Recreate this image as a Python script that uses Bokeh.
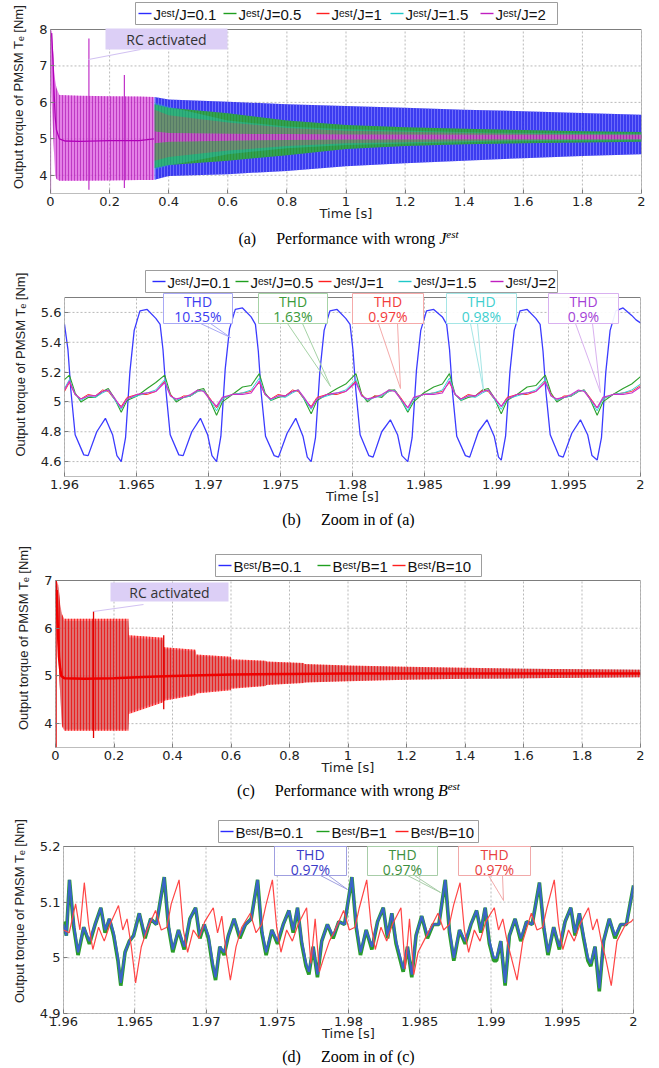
from bokeh.plotting import figure
from bokeh.layouts import column
from bokeh.models import (Range1d, FixedTicker, BoxAnnotation, Label, Arrow,
                          NumeralTickFormatter)
from bokeh.embed import file_html
from bokeh.resources import INLINE

# ===================== DATA =====================
# ---- panel (a): torque envelopes with wrong J_est (0..2 s) ----
a_x_ticks = [0, 0.2, 0.4, 0.6, 0.8, 1, 1.2, 1.4, 1.6, 1.8, 2]
a_x_labels = ["0", "0.2", "0.4", "0.6", "0.8", "1", "1.2", "1.4", "1.6", "1.8", "2"]
a_y_ticks = [4, 5, 6, 7, 8]
a_y_labels = ["4", "5", "6", "7", "8"]
j_names = ["0.1", "0.5", "1", "1.5", "2"]

a_t_j01 = [0.352, 0.4, 0.6, 0.8, 1.0, 1.2, 1.4, 1.6, 1.8, 2.0]
a_hi_j01 = [6.15, 6.08, 6.02, 5.95, 5.90, 5.85, 5.80, 5.76, 5.71, 5.66]
a_lo_j01 = [3.88, 3.98, 4.03, 4.12, 4.25, 4.33, 4.40, 4.47, 4.53, 4.58]

a_t_j05 = [0.352, 0.4, 0.6, 0.8, 1.0, 1.2, 1.4, 1.6, 1.8, 2.0]
a_hi_j05 = [5.95, 5.85, 5.70, 5.50, 5.38, 5.32, 5.28, 5.24, 5.21, 5.19]
a_lo_j05 = [4.20, 4.28, 4.40, 4.55, 4.72, 4.80, 4.85, 4.88, 4.90, 4.92]

a_t_j1 = [0.352, 0.4, 0.6, 0.8, 1.0, 1.5, 2.0]
a_hi_j1 = [5.80, 5.65, 5.45, 5.30, 5.22, 5.15, 5.12]
a_lo_j1 = [4.40, 4.50, 4.68, 4.80, 4.88, 4.95, 4.98]

a_t_j15 = [0.352, 0.4, 0.6, 0.8, 1.0, 1.5, 2.0]
a_hi_j15 = [6.00, 5.88, 5.50, 5.34, 5.26, 5.17, 5.14]
a_lo_j15 = [4.15, 4.27, 4.58, 4.74, 4.83, 4.93, 4.96]

a_t_j2 = [0.0, 0.004, 0.008, 0.012, 0.016, 0.02, 0.03, 0.1, 0.2, 0.3, 0.35,
          0.352, 0.4, 0.6, 0.8, 1.0, 1.5, 2.0]
a_hi_j2 = [8.0, 7.95, 7.5, 6.9, 6.6, 6.4, 6.2, 6.18, 6.17, 6.16, 6.15,
           5.20, 5.16, 5.14, 5.13, 5.12, 5.11, 5.11]
a_lo_j2 = [6.8, 6.0, 5.3, 4.6, 4.0, 3.9, 3.85, 3.85, 3.86, 3.87, 3.87,
           4.88, 4.92, 4.95, 4.97, 4.98, 4.99, 4.99]
a_t_mean = [0.004, 0.008, 0.012, 0.016, 0.02, 0.03, 0.05, 0.1, 0.2, 0.3, 0.35]
a_y_mean = [7.9, 7.2, 6.3, 5.6, 5.25, 5.0, 4.94, 4.93, 4.95, 4.95, 5.0]
a_t_spike = [0.0, 0.13, 0.25]
a_lo_spike = [3.5, 3.6, 3.65]
a_hi_spike = [8.0, 7.75, 6.75]

# ---- panel (b): zoom 1.96..2 s ----
b_x_ticks = [1.96, 1.965, 1.97, 1.975, 1.98, 1.985, 1.99, 1.995, 2]
b_x_labels = ["1.96", "1.965", "1.97", "1.975", "1.98", "1.985", "1.99", "1.995", "2"]
b_y_ticks = [4.6, 4.8, 5, 5.2, 5.4, 5.6]
b_y_labels = ["4.6", "4.8", "5", "5.2", "5.4", "5.6"]
b_thd = ["10.35%", "1.63%", "0.97%", "0.98%", "0.9%"]

b_t_j01 = [1.96000, 1.96024, 1.96044, 1.96074, 1.96134, 1.96164, 1.96224, 1.96284, 1.96334, 1.96364,
           1.96394, 1.96424, 1.96454, 1.96484, 1.96524, 1.96574, 1.96634, 1.96664, 1.96684, 1.96704,
           1.96734, 1.96794, 1.96824, 1.96884, 1.96944, 1.96994, 1.97024,
           1.97056, 1.97086, 1.97116, 1.97146, 1.97186, 1.97236, 1.97296, 1.97326, 1.97346, 1.97366,
           1.97396, 1.97456, 1.97486, 1.97546, 1.97606, 1.97656, 1.97686,
           1.97713, 1.97743, 1.97773, 1.97803, 1.97843, 1.97893, 1.97953, 1.97983, 1.98003, 1.98023,
           1.98053, 1.98113, 1.98143, 1.98203, 1.98263, 1.98313, 1.98343,
           1.98384, 1.98414, 1.98444, 1.98474, 1.98514, 1.98564, 1.98624, 1.98654, 1.98674, 1.98694,
           1.98724, 1.98784, 1.98814, 1.98874, 1.98934, 1.98984, 1.99014,
           1.99033, 1.99063, 1.99093, 1.99123, 1.99163, 1.99213, 1.99273, 1.99303, 1.99323, 1.99343,
           1.99373, 1.99433, 1.99463, 1.99523, 1.99583, 1.99633, 1.99663,
           1.99699, 1.99729, 1.99759, 1.99789, 1.99829, 1.99879, 1.99939, 1.99969, 2.00000]
b_y_j01 = [5.52, 5.35, 5.08, 4.78, 4.645, 4.64, 4.80, 4.89, 4.78, 4.64,
           4.60, 4.76, 5.20, 5.48, 5.61, 5.62, 5.56, 5.52, 5.35, 5.08, 4.78, 4.645, 4.64, 4.80, 4.89, 4.78, 4.64,
           4.60, 4.77, 5.22, 5.49, 5.62, 5.63, 5.57, 5.52, 5.34, 5.06, 4.77, 4.64, 4.63, 4.79, 4.89, 4.77, 4.63,
           4.60, 4.76, 5.20, 5.48, 5.61, 5.62, 5.56, 5.52, 5.35, 5.08, 4.78, 4.64, 4.63, 4.80, 4.88, 4.78, 4.64,
           4.60, 4.76, 5.21, 5.48, 5.61, 5.62, 5.57, 5.52, 5.35, 5.07, 4.77, 4.64, 4.63, 4.80, 4.88, 4.77, 4.63,
           4.61, 4.77, 5.20, 5.48, 5.61, 5.62, 5.56, 5.52, 5.34, 5.07, 4.78, 4.64, 4.63, 4.79, 4.88, 4.78, 4.64,
           4.61, 4.76, 5.20, 5.48, 5.61, 5.63, 5.58, 5.55, 5.53]

b_t = [1.96000,
       1.96034, 1.96074, 1.96114, 1.96164, 1.96214, 1.96264, 1.96304, 1.96344, 1.96394, 1.96434, 1.96504, 1.96574, 1.96634,
       1.96696, 1.96736, 1.96776, 1.96826, 1.96876, 1.96926, 1.96966, 1.97006, 1.97056, 1.97096, 1.97166, 1.97236, 1.97296,
       1.97353, 1.97393, 1.97433, 1.97483, 1.97533, 1.97583, 1.97623, 1.97663, 1.97713, 1.97753, 1.97823, 1.97893, 1.97953,
       1.98024, 1.98064, 1.98104, 1.98154, 1.98204, 1.98254, 1.98294, 1.98334, 1.98384, 1.98424, 1.98494, 1.98564, 1.98624,
       1.98673, 1.98713, 1.98753, 1.98803, 1.98853, 1.98903, 1.98943, 1.98983, 1.99033, 1.99073, 1.99143, 1.99213, 1.99273,
       1.99339, 1.99379, 1.99419, 1.99469, 1.99519, 1.99569, 1.99609, 1.99649, 1.99699, 1.99739, 1.99809, 1.99879, 1.99939,
       2.00000]
b_y_j05 = [5.15,
           5.18, 5.06, 5.00, 5.03, 5.03, 5.07, 5.09, 5.03, 4.93, 5.01, 5.04, 5.09, 5.13,
           5.18, 5.05, 5.00, 5.03, 5.04, 5.08, 5.09, 5.02, 4.91, 5.00, 5.05, 5.10, 5.11,
           5.19, 5.06, 5.01, 5.03, 5.04, 5.07, 5.08, 5.02, 4.92, 5.01, 5.05, 5.09, 5.12,
           5.19, 5.05, 5.00, 5.04, 5.03, 5.08, 5.08, 5.02, 4.93, 5.00, 5.06, 5.10, 5.12,
           5.19, 5.05, 5.01, 5.03, 5.04, 5.08, 5.09, 5.03, 4.92, 5.01, 5.05, 5.10, 5.11,
           5.18, 5.06, 5.00, 5.03, 5.04, 5.07, 5.08, 5.02, 4.91, 5.00, 5.05, 5.09, 5.12,
           5.17]
b_y_j1 = [5.07,
          5.13, 5.05, 5.02, 5.05, 5.04, 5.08, 5.07, 5.02, 4.97, 5.03, 5.05, 5.05, 5.07,
          5.14, 5.05, 5.01, 5.04, 5.04, 5.07, 5.08, 5.03, 4.96, 5.02, 5.05, 5.06, 5.07,
          5.13, 5.05, 5.02, 5.05, 5.04, 5.08, 5.07, 5.02, 4.97, 5.03, 5.05, 5.05, 5.07,
          5.14, 5.05, 5.01, 5.04, 5.04, 5.07, 5.08, 5.03, 4.96, 5.02, 5.05, 5.06, 5.07,
          5.13, 5.05, 5.02, 5.05, 5.04, 5.08, 5.07, 5.02, 4.97, 5.03, 5.05, 5.05, 5.07,
          5.14, 5.05, 5.01, 5.04, 5.04, 5.07, 5.08, 5.03, 4.96, 5.02, 5.05, 5.06, 5.07,
          5.11]
b_y_j15 = [5.09,
           5.15, 5.05, 5.01, 5.04, 5.03, 5.06, 5.08, 5.02, 4.95, 5.02, 5.04, 5.06, 5.08,
           5.15, 5.04, 5.01, 5.03, 5.04, 5.07, 5.08, 5.02, 4.94, 5.02, 5.05, 5.06, 5.08,
           5.16, 5.05, 5.01, 5.04, 5.03, 5.06, 5.08, 5.02, 4.95, 5.02, 5.04, 5.06, 5.08,
           5.15, 5.04, 5.01, 5.03, 5.04, 5.07, 5.08, 5.02, 4.94, 5.02, 5.05, 5.06, 5.08,
           5.16, 5.05, 5.01, 5.04, 5.03, 5.06, 5.08, 5.02, 4.95, 5.02, 5.04, 5.06, 5.08,
           5.15, 5.04, 5.01, 5.03, 5.04, 5.07, 5.08, 5.02, 4.94, 5.02, 5.05, 5.06, 5.08,
           5.12]
b_y_j2 = [5.08,
          5.14, 5.05, 5.02, 5.04, 5.04, 5.07, 5.08, 5.03, 4.96, 5.02, 5.05, 5.06, 5.07,
          5.13, 5.04, 5.02, 5.03, 5.05, 5.08, 5.07, 5.02, 4.97, 5.03, 5.05, 5.05, 5.06,
          5.14, 5.05, 5.02, 5.04, 5.04, 5.07, 5.08, 5.03, 4.96, 5.02, 5.05, 5.06, 5.07,
          5.13, 5.04, 5.02, 5.03, 5.05, 5.08, 5.07, 5.02, 4.96, 5.03, 5.05, 5.05, 5.06,
          5.14, 5.05, 5.02, 5.04, 5.04, 5.07, 5.08, 5.03, 4.97, 5.02, 5.05, 5.06, 5.07,
          5.13, 5.04, 5.02, 5.03, 5.05, 5.08, 5.07, 5.02, 4.96, 5.03, 5.05, 5.05, 5.06,
          5.10]

# ---- panel (c): torque envelopes with wrong B_est ----
c_y_ticks = [4, 5, 6, 7]
c_y_labels = ["4", "5", "6", "7"]
b_names = ["0.1", "1", "10"]
c_t = [0.000, 0.004, 0.010, 0.016, 0.022, 0.030, 0.249, 0.251, 0.369, 0.371, 0.479, 0.481,
       0.599, 0.601, 0.719, 0.721, 0.849, 0.851, 1.0, 1.2, 1.4, 1.6, 1.8, 2.0]
c_hi_b10 = [7.00, 7.00, 6.90, 6.50, 6.30, 6.20, 6.20, 5.85, 5.80, 5.60, 5.55, 5.45,
            5.40, 5.35, 5.32, 5.30, 5.27, 5.25, 5.22, 5.19, 5.17, 5.15, 5.14, 5.13]
c_lo_b10 = [6.50, 6.20, 5.40, 4.60, 3.95, 3.85, 3.85, 4.20, 4.45, 4.48, 4.60, 4.63,
            4.70, 4.73, 4.79, 4.81, 4.85, 4.86, 4.89, 4.92, 4.94, 4.95, 4.96, 4.97]
c_hi_b01 = [6.95, 6.95, 6.85, 6.45, 6.25, 6.15, 6.15, 5.82, 5.76, 5.57, 5.52, 5.43,
            5.38, 5.33, 5.30, 5.29, 5.26, 5.24, 5.21, 5.18, 5.16, 5.15, 5.14, 5.13]
c_lo_b01 = [6.55, 6.25, 5.45, 4.65, 4.00, 3.88, 3.88, 4.23, 4.48, 4.50, 4.62, 4.65,
            4.72, 4.75, 4.80, 4.82, 4.86, 4.87, 4.90, 4.93, 4.94, 4.95, 4.96, 4.97]
c_hi_b1 = [6.95, 6.95, 6.85, 6.45, 6.25, 6.15, 6.15, 5.80, 5.74, 5.56, 5.51, 5.42,
           5.37, 5.33, 5.30, 5.28, 5.26, 5.24, 5.21, 5.18, 5.16, 5.15, 5.14, 5.13]
c_lo_b1 = [6.55, 6.25, 5.45, 4.65, 4.00, 3.88, 3.88, 4.25, 4.50, 4.52, 4.63, 4.66,
           4.73, 4.76, 4.80, 4.82, 4.86, 4.87, 4.90, 4.93, 4.94, 4.95, 4.96, 4.97]
c_t_mean = [0.004, 0.008, 0.012, 0.016, 0.02, 0.03, 0.1, 0.2, 0.3, 0.4, 0.6, 1.0, 2.0]
c_y_mean = [6.8, 6.0, 5.4, 5.15, 5.0, 4.95, 4.94, 4.95, 4.98, 5.0, 5.03, 5.05, 5.05]
c_t_spike = [0.002, 0.13, 0.37]
c_lo_spike = [3.5, 3.7, 4.3]
c_hi_spike = [7.0, 6.35, 5.85]

# ---- panel (d): zoom of (c) ----
d_y_ticks = [4.9, 5, 5.1, 5.2]
d_y_labels = ["4.9", "5", "5.1", "5.2"]
d_thd = ["0.97%", "0.97%", "0.97%"]
d_t = [1.96000, 1.96020,
       1.96042, 1.96072, 1.96102, 1.96142, 1.96182, 1.96222, 1.96262, 1.96292, 1.96322, 1.96352,
       1.96382, 1.96402, 1.96432, 1.96462, 1.96492, 1.96532, 1.96572, 1.96612, 1.96652,
       1.96707, 1.96737, 1.96767, 1.96807, 1.96847, 1.96887, 1.96927, 1.96957, 1.96987, 1.97017,
       1.97047, 1.97067, 1.97097, 1.97127, 1.97157, 1.97197, 1.97237, 1.97277, 1.97317,
       1.97362, 1.97392, 1.97422, 1.97462, 1.97502, 1.97542, 1.97582, 1.97612, 1.97642, 1.97672,
       1.97702, 1.97722, 1.97752, 1.97782, 1.97812, 1.97852, 1.97892, 1.97932, 1.97972,
       1.98024, 1.98054, 1.98084, 1.98124, 1.98164, 1.98204, 1.98244, 1.98274, 1.98304, 1.98334,
       1.98364, 1.98384, 1.98414, 1.98444, 1.98474, 1.98514, 1.98554, 1.98594, 1.98634,
       1.98679, 1.98709, 1.98739, 1.98779, 1.98819, 1.98859, 1.98899, 1.98929, 1.98959, 1.98989,
       1.99019, 1.99039, 1.99069, 1.99099, 1.99129, 1.99169, 1.99209, 1.99249, 1.99289,
       1.99340, 1.99370, 1.99400, 1.99440, 1.99480, 1.99520, 1.99560, 1.99590, 1.99620, 1.99650,
       1.99680, 1.99700, 1.99730, 1.99760, 1.99790, 1.99830, 1.99870, 1.99910, 1.99950,
       2.00000]
d_y_b01 = [5.06, 5.04,
           5.14, 5.06, 5.01, 5.055, 5.03, 5.06, 5.09, 5.05, 5.07, 5.045, 5.00, 4.955, 5.01, 5.03, 5.04, 5.08, 5.04, 5.07, 5.06,
           5.145, 5.06, 5.015, 5.05, 5.02, 5.07, 5.09, 5.04, 5.06, 5.04, 4.99, 4.965, 5.02, 5.01, 5.04, 5.07, 5.04, 5.06, 5.07,
           5.14, 5.05, 5.01, 5.05, 5.03, 5.06, 5.085, 5.05, 5.09, 5.03, 4.99, 4.975, 5.02, 4.97, 5.03, 5.06, 5.04, 5.065, 5.06,
           5.145, 5.06, 5.01, 5.05, 5.02, 5.065, 5.09, 5.04, 5.08, 5.03, 5.00, 4.98, 5.02, 4.97, 5.04, 5.075, 5.04, 5.06, 5.06,
           5.14, 5.05, 5.00, 5.05, 5.03, 5.06, 5.085, 5.05, 5.09, 5.03, 5.00, 5.00, 5.03, 4.955, 5.04, 5.07, 5.035, 5.065, 5.06,
           5.135, 5.06, 5.01, 5.055, 5.02, 5.065, 5.09, 5.045, 5.08, 5.04, 5.00, 4.99, 5.02, 4.945, 5.03, 5.07, 5.04, 5.06, 5.06,
           5.13]
d_y_b1 = [5.065, 5.04,
          5.14, 5.055, 5.005, 5.055, 5.025, 5.06, 5.09, 5.045, 5.07, 5.04, 4.995, 4.95, 5.01, 5.03, 5.04, 5.08, 5.035, 5.07, 5.06,
          5.145, 5.055, 5.01, 5.05, 5.015, 5.07, 5.09, 5.035, 5.06, 5.035, 4.985, 4.96, 5.02, 5.005, 5.04, 5.07, 5.035, 5.06, 5.07,
          5.14, 5.045, 5.005, 5.05, 5.025, 5.06, 5.085, 5.045, 5.09, 5.025, 4.985, 4.97, 5.02, 4.965, 5.03, 5.06, 5.035, 5.065, 5.06,
          5.145, 5.055, 5.005, 5.05, 5.015, 5.065, 5.09, 5.035, 5.08, 5.025, 4.995, 4.975, 5.02, 4.965, 5.04, 5.075, 5.035, 5.06, 5.06,
          5.14, 5.045, 4.995, 5.05, 5.025, 5.06, 5.085, 5.045, 5.09, 5.025, 4.995, 4.995, 5.03, 4.95, 5.04, 5.07, 5.03, 5.065, 5.06,
          5.135, 5.055, 5.005, 5.055, 5.015, 5.065, 5.09, 5.04, 5.08, 5.035, 4.995, 4.985, 5.02, 4.94, 5.03, 5.07, 5.035, 5.06, 5.06,
          5.13]
d_t_b10 = [1.96000, 1.96040, 1.96085, 1.96115,
           1.96146, 1.96176, 1.96206, 1.96246, 1.96286, 1.96326, 1.96386, 1.96416, 1.96446, 1.96476,
           1.96506, 1.96546, 1.96586, 1.96646, 1.96686, 1.96726, 1.96756,
           1.96811, 1.96841, 1.96871, 1.96911, 1.96951, 1.96991, 1.97051, 1.97081, 1.97111, 1.97141,
           1.97171, 1.97211, 1.97251, 1.97311, 1.97351, 1.97391, 1.97421,
           1.97466, 1.97496, 1.97526, 1.97566, 1.97606, 1.97646, 1.97706, 1.97736, 1.97766, 1.97796,
           1.97826, 1.97866, 1.97906, 1.97966, 1.98006, 1.98046, 1.98076,
           1.98128, 1.98158, 1.98188, 1.98228, 1.98268, 1.98308, 1.98368, 1.98398, 1.98428, 1.98458,
           1.98488, 1.98528, 1.98568, 1.98628, 1.98668, 1.98708, 1.98738,
           1.98783, 1.98813, 1.98843, 1.98883, 1.98923, 1.98963, 1.99023, 1.99053, 1.99083, 1.99113,
           1.99143, 1.99183, 1.99223, 1.99283, 1.99323, 1.99363, 1.99393,
           1.99444, 1.99474, 1.99504, 1.99544, 1.99584, 1.99624, 1.99684, 1.99714, 1.99744, 1.99774,
           1.99804, 1.99844, 1.99884, 1.99944, 1.99984, 2.00000]
d_y_b10 = [5.05, 5.045, 5.097, 5.05,
           5.135, 5.06, 5.015, 5.055, 5.03, 5.06, 5.094, 5.05, 5.07, 5.02, 4.955, 5.02, 5.05, 5.085, 5.05, 5.055, 5.097,
           5.14, 5.05, 5.01, 5.05, 5.035, 5.065, 5.09, 5.045, 5.075, 5.01, 4.96, 5.02, 5.055, 5.08, 5.045, 5.06, 5.095,
           5.14, 5.055, 5.01, 5.05, 5.03, 5.06, 5.09, 4.99, 5.07, 4.975, 5.00, 5.03, 5.05, 5.085, 5.05, 5.055, 5.09,
           5.14, 5.06, 5.015, 5.055, 5.03, 5.06, 5.09, 4.98, 5.07, 4.97, 5.01, 5.03, 5.05, 5.08, 5.05, 5.06, 5.095,
           5.135, 5.05, 5.01, 5.05, 5.03, 5.065, 5.09, 5.05, 5.07, 5.03, 5.00, 4.96, 5.03, 5.08, 5.05, 5.055, 5.09,
           5.14, 5.06, 5.015, 5.05, 5.03, 5.06, 5.09, 5.05, 5.07, 5.03, 5.00, 4.95, 5.03, 5.06, 5.065,
           5.07]

# ===================== LAYOUT (page pixels) =====================
W = 659
# main figure spans page rows [top, top+H); data box edges L,R,T,B in page pixels
CFG = {
    "a": dict(top=0, H=228, L=50, R=641, T=29, B=193, xr=(0, 2), yr=(3.5, 8), capH=24, capY=10),
    "b": dict(top=252, H=256, L=64, R=640, T=297, B=476, xr=(1.96, 2), yr=(4.5, 5.7), capH=20, capY=11),
    "c": dict(top=528, H=252, L=55, R=640, T=580, B=747, xr=(0, 2), yr=(3.5, 7), capH=28, capY=10),
    "d": dict(top=808, H=238, L=63, R=633, T=846, B=1013, xr=(1.96, 2), yr=(4.9, 5.2), capH=22, capY=10),
}
YLABEL = "Output torque of PMSM T\u2091 [Nm]"
SUP = "\u1d49\u02e2\u1d57"
AXC = "#7d7d7d"

TIMES = {"(": 333, ")": 333, "a": 444, "b": 500, "c": 444, "d": 500, "e": 444, "f": 333,
         "g": 500, "h": 500, "i": 278, "m": 778, "n": 500, "o": 500, "r": 333, "s": 389,
         "t": 278, "w": 722, "P": 556, "Z": 611, " ": 250, "J": 444, "B": 611}


def w_times(s, size):
    return sum(TIMES.get(ch, 500) for ch in s) * size / 1000.0


def X(c, px):
    x0, x1 = c["xr"]
    return x0 + (px - c["L"]) / (c["R"] - c["L"]) * (x1 - x0)


def Y(c, py):
    y0, y1 = c["yr"]
    return y1 - (py - c["T"]) / (c["B"] - c["T"]) * (y1 - y0)


def make_fig(key, xt, xl, yt, yl):
    c = CFG[key]
    x0, x1 = c["xr"]
    y0, y1 = c["yr"]
    p = figure(width=W, height=c["H"], x_range=Range1d(x0, x1), y_range=Range1d(y0, Y(c, c["top"])),
               output_backend="svg", toolbar_location=None, frame_align=False,
               min_border_left=c["L"], min_border_right=W - c["R"],
               min_border_top=0, min_border_bottom=c["top"] + c["H"] - c["B"])
    p.title.visible = False
    p.background_fill_color = "white"
    p.border_fill_color = "white"
    p.outline_line_color = None
    p.xgrid.visible = False
    p.ygrid.visible = False
    # dotted grid inside the data box, at the tick positions
    p.segment(x0=xt, y0=[y0] * len(xt), x1=xt, y1=[y1] * len(xt),
              line_color="#b9b9b9", line_dash="2 2", line_width=1)
    p.segment(x0=[x0] * len(yt), y0=yt, x1=[x1] * len(yt), y1=yt,
              line_color="#b9b9b9", line_dash="2 2", line_width=1)
    p.xaxis.ticker = FixedTicker(ticks=xt)
    p.yaxis.ticker = FixedTicker(ticks=yt)
    p.xaxis.formatter = NumeralTickFormatter(format="0.[000]")
    p.yaxis.formatter = NumeralTickFormatter(format="0.[000]")
    p.xaxis.major_label_overrides = {t: s for t, s in zip(xt, xl)}
    p.yaxis.major_label_overrides = {t: s for t, s in zip(yt, yl)}
    p.yaxis.bounds = (y0, y1)
    for ax in (p.xaxis[0], p.yaxis[0]):
        ax.axis_line_color = None
        ax.major_tick_line_color = AXC
        ax.major_tick_in = 4
        ax.major_tick_out = 0
        ax.minor_tick_line_color = None
        ax.major_label_text_font = "DejaVu Sans"
        ax.major_label_text_font_size = "13px"
        ax.major_label_text_color = "#222222"
        ax.major_label_standoff = 3
        ax.axis_label_text_font_style = "normal"
        ax.axis_label_text_color = "#222222"
    p.xaxis.axis_label = "Time [s]"
    p.xaxis.axis_label_text_font = "DejaVu Sans"
    p.xaxis.axis_label_text_font_size = "13px"
    p.xaxis.axis_label_standoff = -3
    p.yaxis.axis_label = YLABEL
    p.yaxis.axis_label_text_font = "Liberation Sans"
    p.yaxis.axis_label_text_font_size = "13px"
    p.yaxis.axis_label_standoff = 10
    return p, c


def frame_box(p, c):
    x0, x1 = c["xr"]
    y0, y1 = c["yr"]
    p.add_layout(BoxAnnotation(left=x0, right=x1, bottom=y0, top=y1, fill_alpha=0,
                               line_color=AXC, line_width=1, line_alpha=1))


def txt(p, c, px, py, s, size, font="Liberation Sans", color="#111111", style="normal", align="left"):
    p.add_layout(Label(x=X(c, px), y=Y(c, py), text=s, text_font=font,
                       text_font_size="%.1fpx" % size, text_color=color,
                       text_font_style=style, text_align=align, text_baseline="middle"))


def seg(p, c, x0, y0, x1, y1, color, width=1.0):
    p.add_layout(Arrow(end=None, start=None, x_start=X(c, x0), y_start=Y(c, y0),
                       x_end=X(c, x1), y_end=Y(c, y1), line_color=color, line_width=width))


def box(p, c, x0, x1, y0, y1, fill, line, alpha=1.0):
    p.add_layout(BoxAnnotation(left=X(c, x0), right=X(c, x1), top=Y(c, y0), bottom=Y(c, y1),
                               fill_color=fill, fill_alpha=alpha, line_color=line, line_width=1,
                               line_alpha=1.0 if line else 0))


def legend(p, c, bx, yc, items):
    box(p, c, bx[0], bx[1], bx[2], bx[3], "white", "#9d9d9d")
    xs_ = [X(c, it[0]) for it in items]
    xe_ = [X(c, it[0] + 13) for it in items]
    ys_ = [Y(c, yc)] * len(items)
    # legend key samples drawn above the legend box
    p.segment(x0=xs_, y0=ys_, x1=xe_, y1=ys_, line_color=[it[1] for it in items],
              line_width=1.4, level="overlay")
    for xs, color, label in items:
        txt(p, c, xs + 15, yc + 1, label, 15)


def caption(key, tag, words, sym=None, cx=348):
    c = CFG[key]
    h = c["capH"]
    q = figure(width=W, height=h, x_range=Range1d(0, W), y_range=Range1d(h, 0),
               output_backend="svg", toolbar_location=None, x_axis_type=None, y_axis_type=None,
               frame_align=False, min_border=0, min_border_left=0, min_border_right=0,
               min_border_top=0, min_border_bottom=0)
    q.title.visible = False
    q.outline_line_color = None
    q.background_fill_color = "white"
    q.border_fill_color = "white"
    size = 16
    gap = 20
    total = w_times(tag, size) + gap + w_times(words, size)
    if sym:
        total += w_times(sym, size) + w_times("est", 11)
    x = cx - total / 2
    yc = c["capY"]

    def lab(xx, yy, s, sz, style="normal"):
        q.add_layout(Label(x=xx, y=yy, text=s, text_font="Liberation Serif", text_font_size="%dpx" % sz,
                           text_color="black", text_font_style=style, text_baseline="middle"))
    lab(x, yc, tag, size)
    x += w_times(tag, size) + gap
    lab(x, yc, words, size)
    x += w_times(words, size)
    if sym:
        lab(x, yc, sym, size, "italic")
        x += w_times(sym, size)
        lab(x, yc - 5, "est", 11, "italic")
    return q


def thd(p, c, bx, color, border, value, pointers):
    x0, x1, y0, y1 = bx
    for (sx, sy, ex, ey) in pointers:
        seg(p, c, sx, sy, ex, ey, border, 1)
    box(p, c, x0, x1, y0, y1, "white", border, 0.92)
    txt(p, c, (x0 + x1) / 2, y0 + 8, "THD", 14, font="Open Sans", color=color, align="center")
    txt(p, c, (x0 + x1) / 2, y0 + 23, value, 14, font="Open Sans", color=color, align="center")


def rc_note(p, c, bx, pointer):
    seg(p, c, *pointer, "#d2c2f2", 1.2)
    box(p, c, bx[0], bx[1], bx[2], bx[3], "#dccff6", None)
    txt(p, c, (bx[0] + bx[1]) / 2, (bx[2] + bx[3]) / 2, "RC activated", 14,
        font="Open Sans", color="#333333", align="center")


cols_j = ["#2b2bff", "#1f9f1f", "#ff1f1f", "#1fc8c8", "#c01fc0"]
cols_b = ["#2b2bff", "#1f9f1f", "#ff1f1f"]

# ===================== PANEL (a) =====================
pa, ca = make_fig("a", a_x_ticks, a_x_labels, a_y_ticks, a_y_labels)
band_a = [
    (a_t_j01, a_lo_j01, a_hi_j01, "#2020ee", 0.88, "#8c8cff", 0.6),
    (a_t_j05, a_lo_j05, a_hi_j05, "#30b830", 0.82, "#1b7a1b", 0.45),
    (a_t_j1, a_lo_j1, a_hi_j1, "#ff2a2a", 0.40, "#c00000", 0.35),
    (a_t_j15, a_lo_j15, a_hi_j15, "#2fd6d6", 0.30, "#109090", 0.30),
    (a_t_j2, a_lo_j2, a_hi_j2, "#d94fdc", 0.72, "#a000a8", 0.55),
]
for t, lo, hi, col, al, hcol, hal in band_a:
    pa.varea(x=t, y1=lo, y2=hi, fill_color=col, fill_alpha=al,
             hatch_pattern="vertical_line", hatch_color=hcol, hatch_alpha=hal,
             hatch_scale=3, hatch_weight=1)
pa.segment(x0=a_t_spike, y0=a_lo_spike, x1=a_t_spike, y1=a_hi_spike, line_color="#c030c8", line_width=1.2)
pa.line(a_t_mean, a_y_mean, line_color="#b000b8", line_width=1.3)
frame_box(pa, ca)
legend(pa, ca, (135, 557, 2, 24), 13,
       [(xs, col, "J" + SUP + "/J=" + n) for xs, col, n in zip([138, 223, 316, 390, 480], cols_j, j_names)])
rc_note(pa, ca, (105, 227, 28, 49), (88, 59, 140, 49))
cap_a = caption("a", "(a)", "Performance with wrong ", "J")

# ===================== PANEL (b) =====================
pb, cb = make_fig("b", b_x_ticks, b_x_labels, b_y_ticks, b_y_labels)
pb.line(b_t_j01, b_y_j01, line_color="#3b3bff", line_width=1.3)
pb.line(b_t, b_y_j05, line_color="#2ca02c", line_width=1.1)
pb.line(b_t, b_y_j1, line_color="#ff3333", line_width=1.0)
pb.line(b_t, b_y_j15, line_color="#33d6d6", line_width=1.0)
pb.line(b_t, b_y_j2, line_color="#cc33cc", line_width=1.2)
frame_box(pb, cb)
legend(pb, cb, (145, 557, 270, 292), 281,
       [(xs, col, "J" + SUP + "/J=" + n) for xs, col, n in zip([152, 235, 318, 398, 490], cols_j, j_names)])
thd_b = [
    ((163, 232, 293, 323), "#3c3cf0", "#a9a9f5", [(200, 323, 230, 337), (210, 323, 230, 337)]),
    ((258, 327, 293, 323), "#3a9a3a", "#a6d3a6", [(287, 323, 330, 386), (302, 323, 330, 386)]),
    ((352, 423, 293, 323), "#f23c3c", "#f5aaaa", [(378, 323, 400, 388), (397, 323, 400, 388)]),
    ((446, 516, 293, 323), "#3fcfcf", "#a5e6e6", [(470, 323, 483, 390), (477, 323, 483, 390)]),
    ((548, 618, 293, 323), "#a43fd6", "#d9b1f0", [(575, 323, 600, 392), (592, 323, 600, 392)]),
]
for (bx, col, brd, ptr), val in zip(thd_b, b_thd):
    thd(pb, cb, bx, col, brd, val, ptr)
cap_b = caption("b", "(b)", "Zoom in of (a)")

# ===================== PANEL (c) =====================
pc, cc = make_fig("c", a_x_ticks, a_x_labels, c_y_ticks, c_y_labels)
pc.varea(x=c_t, y1=c_lo_b01, y2=c_hi_b01, fill_color="#4040ff", fill_alpha=0.22)
pc.varea(x=c_t, y1=c_lo_b1, y2=c_hi_b1, fill_color="#2e9e2e", fill_alpha=0.25)
pc.varea(x=c_t, y1=c_lo_b10, y2=c_hi_b10, fill_color="#ff3a3a", fill_alpha=0.62,
         hatch_pattern="vertical_line", hatch_color="#ee0000", hatch_alpha=0.7,
         hatch_scale=3, hatch_weight=1)
pc.segment(x0=c_t_spike, y0=c_lo_spike, x1=c_t_spike, y1=c_hi_spike, line_color="#e00000", line_width=1.3)
pc.line(c_t_mean, c_y_mean, line_color="#ee0000", line_width=2.5)
frame_box(pc, cc)
legend(pc, cc, (215, 481, 554, 576), 565,
       [(xs, col, "B" + SUP + "/B=" + n) for xs, col, n in zip([218, 317, 392], cols_b, b_names)])
rc_note(pc, cc, (110, 228, 582, 601), (93, 611, 143, 604))
cap_c = caption("c", "(c)", "Performance with wrong ", "B")

# ===================== PANEL (d) =====================
pd_, cd = make_fig("d", b_x_ticks, b_x_labels, d_y_ticks, d_y_labels)
pd_.line(d_t, d_y_b1, line_color="#2a9d2a", line_width=3.6)
pd_.line(d_t, d_y_b01, line_color="#3a64c8", line_width=2.2)
pd_.line(d_t_b10, d_y_b10, line_color="#ff4545", line_width=1.2)
frame_box(pd_, cd)
legend(pd_, cd, (218, 478, 820, 842), 831,
       [(xs, col, "B" + SUP + "/B=" + n) for xs, col, n in zip([220, 316, 395], cols_b, b_names)])
thd_d = [
    ((274, 346, 846, 875), "#3b3bc8", "#9f9fe0", [(320, 875, 347, 889), (328, 875, 347, 889)]),
    ((367, 437, 846, 875), "#3d8f3d", "#a8cda8", [(407, 875, 440, 892), (414, 875, 440, 892)]),
    ((458, 530, 846, 875), "#e84040", "#f1a9a9", [(488, 875, 503, 900), (502, 875, 503, 900)]),
]
for (bx, col, brd, ptr), val in zip(thd_d, d_thd):
    thd(pd_, cd, bx, col, brd, val, ptr)
cap_d = caption("d", "(d)", "Zoom in of (c)")

layout = column(pa, cap_a, pb, cap_b, pc, cap_c, pd_, cap_d, spacing=0)
open("out.html", "w").write(file_html(layout, INLINE))
